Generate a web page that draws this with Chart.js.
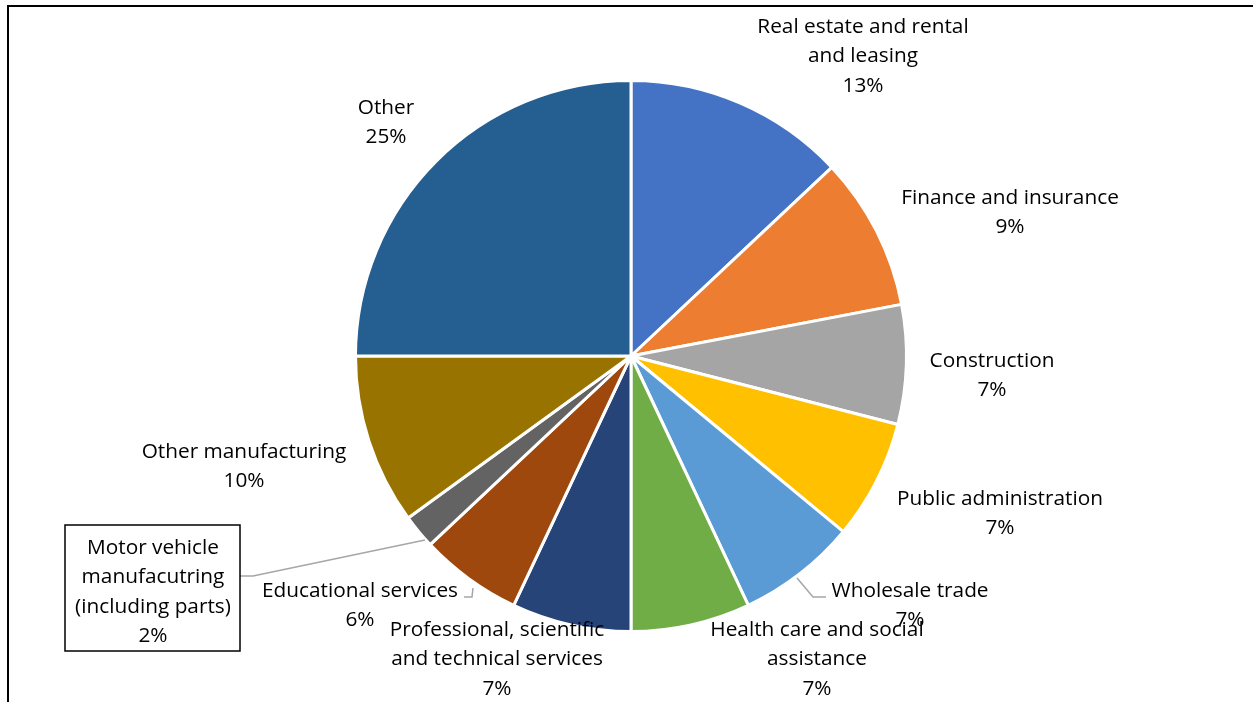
<!DOCTYPE html>
<html>
<head>
<meta charset="utf-8">
<script src="https://cdn.jsdelivr.net/npm/chart.js@4.4.1/dist/chart.umd.min.js"></script>
<style>
  html, body { margin: 0; padding: 0; background: #fff; }
  #wrap { position: relative; width: 1253px; height: 702px; }
</style>
</head>
<body>
<div id="wrap"><canvas id="pieChart" width="1253" height="702"></canvas></div>
<script>
// Share of total by industry (%)
const categories = [
    ['Real estate and rental', 'and leasing'],
    ['Finance and insurance'],
    ['Construction'],
    ['Public administration'],
    ['Wholesale trade'],
    ['Health care and social', 'assistance'],
    ['Professional, scientific', 'and technical services'],
    ['Educational services'],
    ['Motor vehicle', 'manufacutring', '(including parts)'],
    ['Other manufacturing'],
    ['Other']
];
const shares = [13, 9, 7, 7, 7, 7, 7, 6, 2, 10, 25];
const colors = ['#4472C4', '#ED7D31', '#A5A5A5', '#FFC000', '#5B9BD5', '#70AD47',
                '#264478', '#9E480E', '#636363', '#997300', '#255E91'];

// where each label block is centred (x, y of first line)
const labelPos = [
    [863, 27], [1010, 198], [992, 361], [1000, 499], [910, 591], [817, 630],
    [497, 630], [360, 591], [153, 548], [244, 452], [386, 108]
];
// leader lines for the labels that sit away from their slice
const leaders = {
    4: [[797, 578], [813, 597], [826, 597]],
    7: [[473, 588], [472, 597], [464, 597]],
    8: [[425, 540], [253, 576], [240, 576]]
};
const boxed = { 8: [65, 525, 175, 126] };

const FONT = '20.8px "Open Sans"';
const LINE = 29.5;

const labelPlugin = {
    id: 'sliceLabels',
    beforeDraw(chart) {
        const ctx = chart.ctx;
        ctx.save();
        ctx.strokeStyle = '#000';
        ctx.lineWidth = 2;
        ctx.beginPath();
        ctx.moveTo(8, 702);
        ctx.lineTo(8, 6);
        ctx.lineTo(1253, 6);
        ctx.stroke();
        ctx.restore();
    },
    afterDatasetsDraw(chart) {
        const ctx = chart.ctx;
        ctx.save();
        // leader lines
        ctx.strokeStyle = '#A6A6A6';
        ctx.lineWidth = 1.5;
        Object.keys(leaders).forEach(k => {
            const pts = leaders[k];
            ctx.beginPath();
            ctx.moveTo(pts[0][0], pts[0][1]);
            for (let i = 1; i < pts.length; i++) ctx.lineTo(pts[i][0], pts[i][1]);
            ctx.stroke();
        });
        // boxes
        ctx.strokeStyle = '#000';
        ctx.lineWidth = 1.5;
        Object.keys(boxed).forEach(k => {
            const b = boxed[k];
            ctx.fillStyle = '#fff';
            ctx.fillRect(b[0], b[1], b[2], b[3]);
            ctx.strokeRect(b[0], b[1], b[2], b[3]);
        });
        // text
        ctx.font = FONT;
        ctx.fillStyle = '#000';
        ctx.textAlign = 'center';
        ctx.textBaseline = 'middle';
        chart.data.labels.forEach((lines, i) => {
            const [x, y] = labelPos[i];
            const all = lines.concat([chart.data.datasets[0].data[i] + '%']);
            all.forEach((t, j) => ctx.fillText(t, x, y + j * LINE));
        });
        ctx.restore();
    }
};

new Chart(document.getElementById('pieChart').getContext('2d'), {
    type: 'pie',
    data: {
        labels: categories,
        datasets: [{
            data: shares,
            backgroundColor: colors,
            borderColor: '#fff',
            borderWidth: 3
        }]
    },
    options: {
        responsive: false,
        animation: false,
        layout: { padding: { left: 354, right: 345, top: 79, bottom: 69 } },
        plugins: {
            legend: { display: false },
            tooltip: { enabled: false }
        }
    },
    plugins: [labelPlugin]
});
</script>
</body>
</html>
